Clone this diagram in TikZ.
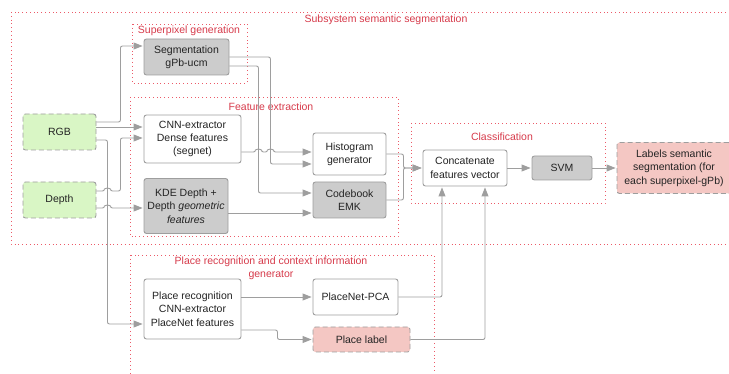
\documentclass[tikz,border=0pt]{standalone}
\usepackage{fontspec}
\setmainfont{Liberation Sans}
\usetikzlibrary{arrows.meta,positioning,calc}
\definecolor{Input}{RGB}{217,246,197}
\definecolor{Block}{RGB}{204,204,204}
\definecolor{Output}{RGB}{244,199,195}
\definecolor{Edge}{RGB}{158,158,158}
\definecolor{Group}{RGB}{236,90,104}
\definecolor{GroupText}{RGB}{214,58,74}
\definecolor{Ink}{RGB}{35,35,35}

\begin{document}
\begin{tikzpicture}[x=1pt, y=-1pt,
    every node/.style={font={\fontsize{10.5}{13.3}\selectfont}, text=Ink},
    box/.style={draw=Edge, line width=0.9pt, rounded corners=2.5pt, align=center, inner sep=2pt},
    plain/.style={box, fill=white},
    block/.style={box, fill=Block},
    input/.style={box, fill=Input, dash pattern=on 5pt off 3pt},
    output/.style={box, fill=Output, dash pattern=on 5pt off 3pt},
    group/.style={draw=Group, line width=0.8pt, dash pattern=on 0.8pt off 3pt},
    grouplabel/.style={text=GroupText, align=center},
    arr/.style={draw=Edge, line width=0.9pt, rounded corners=2pt, -{Triangle[length=9pt,width=7pt]}, shorten >=1pt}
    ]
    \useasboundingbox (0,0) rectangle (729,374);

    % groups
    \draw[group] (11,12) rectangle (735,244);
    \node[grouplabel] (subsyslabel) at (386,20) {Subsystem semantic segmentation};
    \draw[group] (132,24) rectangle (247,83);
    \node[grouplabel] (superlabel) at (189,31) {Superpixel generation};
    \draw[group] (130,97) rectangle (398,236);
    \node[grouplabel] (featlabel) at (271,107) {Feature extraction};
    \draw[group] (411,123) rectangle (605,203);
    \node[grouplabel] (classlabel) at (502,137) {Classification};
    \draw[group] (130,255) rectangle (434,385);
    \node[grouplabel] (placelabel) at (271,268) {Place recognition and context information\\generator};

    % inputs
    \node[input, minimum width=73, minimum height=36] (rgb) at (59.5,132) {RGB};
    \node[input, minimum width=73, minimum height=36] (depth) at (59.5,200) {Depth};

    % blocks
    \node[block, minimum width=85, minimum height=36] (seg) at (186.5,57) {Segmentation\\gPb-ucm};
    \node[plain, minimum width=97, minimum height=48] (cnn) at (192.5,139) {CNN-extractor\\Dense features\\(segnet)};
    \node[block, minimum width=84, minimum height=55] (kde) at (186,206) {KDE Depth +\\Depth \textit{geometric}\\\textit{features}};
    \node[plain, minimum width=73, minimum height=42] (hist) at (349.5,154) {Histogram\\generator};
    \node[block, minimum width=73, minimum height=36] (codebook) at (349.5,200) {Codebook\\EMK};
    \node[plain, minimum width=84, minimum height=36] (concat) at (465,168) {Concatenate\\features vector};
    \node[block, minimum width=60, minimum height=24] (svm) at (562,168) {SVM};
    \node[output, minimum width=114, minimum height=51] (labels) at (674,168) {Labels semantic\\segmentation (for\\each superpixel-gPb)};
    \node[plain, minimum width=97, minimum height=60] (placerec) at (192.5,309) {Place recognition\\CNN-extractor\\PlaceNet features};
    \node[plain, minimum width=85, minimum height=36] (pca) at (355.5,297) {PlaceNet-PCA};
    \node[output, minimum width=97, minimum height=25] (plabel) at (361.5,339.5) {Place label};

    % connectors
    \draw[arr] ([yshift=10pt]rgb.east) -- ++(24,0) |- ([yshift=11pt]seg.west);
    \draw[arr] ([yshift=5pt]rgb.east) -- ([yshift=12pt]cnn.west);
    \draw[arr] ([yshift=-8pt]rgb.east) -- ++(11,0) |- ([yshift=-15pt]placerec.west);
    \draw[arr] ([yshift=9pt]depth.east) -- ++(8,0) arc[start angle=180, end angle=0, radius=3pt] -- ++(10,0) |- ([yshift=1pt]cnn.west);
    \draw[arr] ([yshift=-8pt]depth.east) -- ++(8,0) arc[start angle=180, end angle=0, radius=3pt] -- ([yshift=-2pt]kde.west);
    \draw[arr] (seg.east) -- ++(41,0) |- ([yshift=-10pt]hist.west);
    \draw[arr] ([yshift=-9pt]seg.east) -- ++(29,0) |- ([yshift=7pt]codebook.west);
    \draw[arr] ([yshift=-13pt]cnn.east) -- ++(14,0) arc[start angle=180, end angle=0, radius=3pt] -- ++(6,0) arc[start angle=180, end angle=0, radius=3pt] -- ([yshift=2pt]hist.west);
    \draw[arr] ([yshift=-7pt]kde.east) -- ([yshift=-13pt]codebook.west);
    \draw[arr] (hist.east) -- ++(17,0) |- (concat.west);
    \draw[arr] (codebook.east) -- ++(17,0) |- (concat.west);
    \draw[arr] (concat) -- (svm);
    \draw[arr] (svm) -- (labels);
    \draw[arr] (pca.east) -| ([xshift=-23pt]concat.south);
    \draw[arr] (plabel.east) -| ([xshift=20pt]concat.south);
    \draw[arr] ([yshift=12pt]placerec.east) -- (pca.west);
    \draw[arr] ([yshift=-21pt]placerec.east) -- ++(36,0) |- (plabel.west);
\end{tikzpicture}
\end{document}
